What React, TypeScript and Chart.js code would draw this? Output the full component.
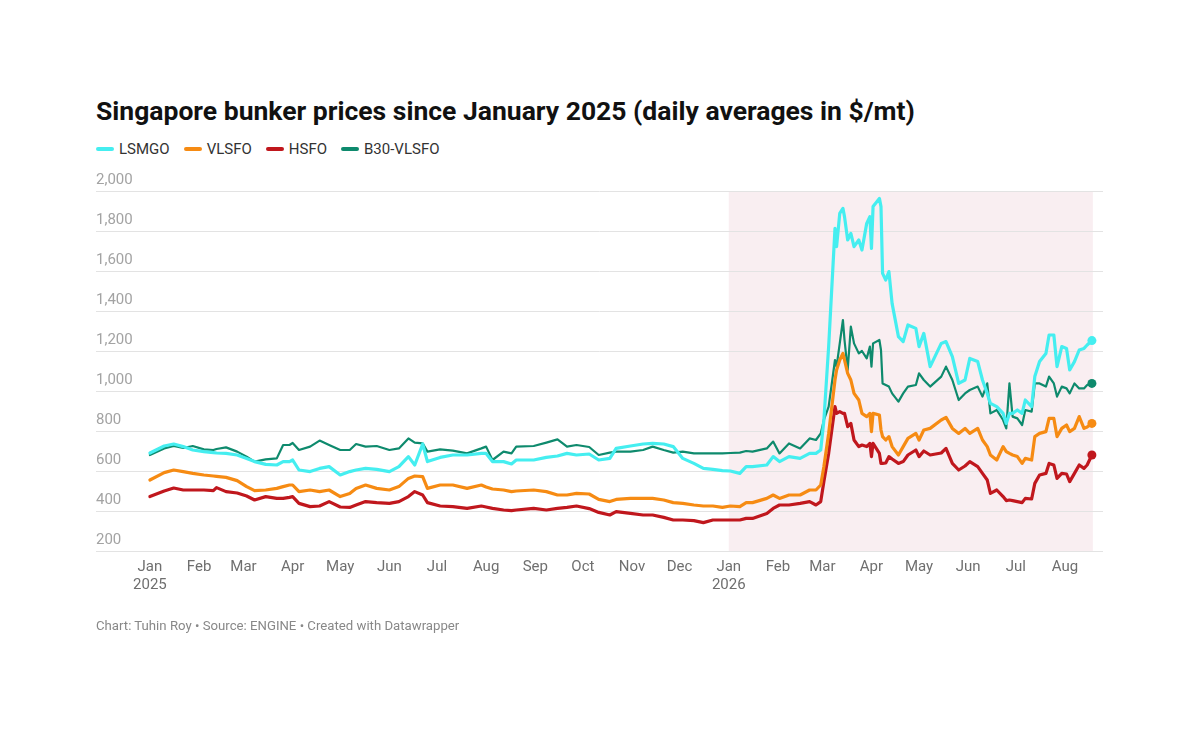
import React, { useEffect, useRef } from "react";
import { Chart, registerables } from "chart.js";

Chart.register(...registerables);

// Day offsets since 1 Jan 2025
const days = [
  0, 9, 15, 21, 27, 34, 40, 42, 48, 55,
  61, 66, 73, 80, 84, 88, 90, 94, 101, 107,
  113, 120, 126, 130, 136, 143, 151, 157, 163, 167,
  172, 175, 183, 191, 200, 209, 212, 216, 223, 228,
  231, 242, 250, 257, 263, 269, 277, 283, 290, 294,
  303, 311, 317, 324, 330, 336, 343, 349, 355, 361,
  366, 372, 376, 380, 389, 393, 397, 403, 410, 416,
  420, 423, 425, 428, 432, 433, 435, 437, 438, 440,
  442, 444, 447, 449, 452, 454, 455, 456, 460, 461,
  462, 464, 466, 468, 472, 475, 478, 483, 485, 488,
  492, 499, 502, 506, 510, 514, 517, 522, 525, 528,
  530, 534, 538, 540, 542, 544, 547, 550, 552, 556,
  558, 561, 565, 567, 570, 572, 575, 578, 580, 583,
  586, 589, 591, 594,
];

const lsmgo = [
  690, 725, 735, 722, 705, 697, 692, 690, 688, 680,
  663, 647, 633, 630, 647, 647, 655, 605, 597, 613,
  622, 580, 597, 605, 613, 608, 597, 622, 672, 630,
  735, 647, 668, 680, 680, 688, 688, 647, 647, 635,
  655, 655, 668, 675, 688, 680, 685, 655, 663, 713,
  725, 735, 738, 735, 722, 663, 638, 613, 608, 602,
  600, 588, 622, 622, 630, 672, 647, 672, 663, 688,
  688, 705, 855, 1222, 1813, 1722, 1888, 1913, 1872, 1755,
  1788, 1722, 1755, 1705, 1838, 1872, 1713, 1922, 1963, 1922,
  1588, 1555, 1597, 1438, 1272, 1247, 1330, 1313, 1222, 1288,
  1122, 1238, 1247, 1172, 1038, 1055, 1163, 1147, 1055, 988,
  938, 922, 888, 838, 888, 888, 905, 888, 955, 922,
  1072, 1147, 1188, 1280, 1280, 1122, 1222, 1213, 1105, 1147,
  1205, 1213, 1230, 1252,
];

const vlsfo = [
  555, 592, 605, 597, 588, 580, 575, 573, 568, 552,
  522, 502, 505, 513, 522, 530, 530, 497, 505, 497,
  505, 472, 488, 513, 530, 513, 505, 522, 563, 575,
  572, 513, 530, 530, 513, 530, 520, 510, 505, 497,
  500, 505, 497, 480, 480, 488, 485, 458, 447, 458,
  463, 463, 463, 455, 442, 438, 430, 425, 425, 418,
  425, 422, 442, 442, 463, 480, 463, 480, 480, 505,
  505, 530, 622, 788, 1055, 1105, 1155, 1188, 1155, 1088,
  1055, 988, 955, 888, 872, 888, 797, 888, 880, 805,
  772, 755, 772, 722, 680, 722, 763, 788, 755, 805,
  813, 855, 868, 813, 788, 813, 788, 813, 755, 722,
  680, 655, 722, 697, 688, 680, 672, 638, 663, 655,
  772, 788, 797, 863, 863, 772, 813, 830, 797, 813,
  872, 813, 820, 838,
];

const hsfo = [
  472, 500, 515, 505, 505, 505, 502, 517, 497, 490,
  475, 455, 472, 463, 463, 468, 472, 438, 422, 425,
  447, 420, 418, 430, 447, 442, 438, 447, 472, 497,
  480, 442, 425, 422, 413, 425, 420, 413, 405, 402,
  405, 413, 405, 413, 418, 425, 412, 393, 380, 397,
  388, 380, 380, 368, 355, 355, 352, 342, 355, 355,
  355, 355, 363, 363, 388, 413, 430, 430, 438, 447,
  430, 447, 547, 688, 922, 888, 897, 888, 888, 822,
  838, 755, 722, 730, 722, 738, 672, 738, 688, 638,
  638, 640, 672, 660, 638, 647, 680, 705, 672, 700,
  680, 690, 713, 638, 605, 625, 647, 622, 588, 555,
  488, 505, 472, 452, 455, 452, 447, 442, 463, 460,
  538, 580, 588, 638, 630, 563, 588, 585, 547, 588,
  630, 613, 630, 680,
];

const b30vlsfo = [
  680, 713, 725, 715, 725, 708, 705, 710, 718, 697,
  672, 647, 658, 663, 730, 730, 740, 705, 722, 752,
  730, 705, 705, 735, 722, 725, 705, 713, 763, 742,
  738, 697, 708, 702, 688, 713, 722, 655, 697, 688,
  722, 725, 742, 758, 722, 730, 720, 680, 692, 697,
  697, 705, 722, 705, 692, 697, 688, 688, 688, 688,
  690, 692, 700, 697, 713, 747, 688, 738, 713, 763,
  755, 788, 855, 922, 1155, 1122, 1238, 1355, 1255, 1105,
  1322, 1238, 1188, 1200, 1163, 1222, 1122, 1238, 1255, 1205,
  1038, 1030, 1022, 988, 947, 988, 1022, 1030, 1088, 1055,
  1022, 1072, 1122, 1055, 955, 988, 1005, 1022, 972, 1038,
  888, 905, 855, 813, 1038, 872, 863, 830, 905, 897,
  1038, 1038, 1022, 1072, 1038, 972, 1022, 1013, 988, 1038,
  1013, 1013, 1030, 1038,
];

const monthTicks = [0, 31, 59, 90, 120, 151, 181, 212, 243, 273, 304, 334, 365, 396, 424, 455, 485, 516, 546, 577];
const monthLabels: (string | string[])[] = [
  ["Jan", "2025"], "Feb", "Mar", "Apr", "May", "Jun", "Jul", "Aug", "Sep", "Oct", "Nov", "Dec",
  ["Jan", "2026"], "Feb", "Mar", "Apr", "May", "Jun", "Jul", "Aug",
];
const yTicks = [200, 400, 600, 800, 1000, 1200, 1400, 1600, 1800, 2000];
const shadeRange = [365, 594.6];

const seriesNames = ["LSMGO", "VLSFO", "HSFO", "B30-VLSFO"];
const seriesColors = ["#45eef0", "#f68b13", "#c0171d", "#0e8a6d"];
const seriesWidths = [3.2, 3.2, 3.2, 2.2];

const shadePlugin = {
  id: "shade",
  beforeDraw(chart: any) {
    const { ctx, chartArea, scales } = chart;
    const x0 = scales.x.getPixelForValue(shadeRange[0]);
    const x1 = scales.x.getPixelForValue(shadeRange[1]);
    ctx.save();
    ctx.fillStyle = "#f9eef1";
    ctx.fillRect(x0, chartArea.top, x1 - x0, chartArea.bottom - chartArea.top);
    ctx.restore();
  },
};

export default function App() {
  const ref = useRef<HTMLCanvasElement | null>(null);

  useEffect(() => {
    if (!ref.current) return;
    Chart.defaults.font.family = "Roboto";
    const all = [lsmgo, vlsfo, hsfo, b30vlsfo];
    const chart = new Chart(ref.current, {
      type: "line",
      data: {
        datasets: all.map((vals, i) => ({
          label: seriesNames[i],
          data: vals.map((v, j) => ({ x: days[j], y: v })),
          borderColor: seriesColors[i],
          backgroundColor: seriesColors[i],
          borderWidth: seriesWidths[i],
          tension: 0,
          borderJoinStyle: "round" as const,
          borderCapStyle: "round" as const,
          pointRadius: (c: any) => (c.dataIndex === vals.length - 1 ? 4.5 : 0),
          pointBorderWidth: 0,
          pointHoverRadius: 0,
        })),
      },
      options: {
        responsive: false,
        animation: false,
        events: [],
        layout: { padding: { left: 96, right: 97, top: 191, bottom: 129 } },
        plugins: { legend: { display: false }, tooltip: { enabled: false } },
        scales: {
          x: {
            type: "linear",
            min: -34,
            max: 601,
            grid: { display: false, drawTicks: false },
            border: { display: false },
            afterBuildTicks: (scale: any) => {
              scale.ticks = monthTicks.map((v) => ({ value: v }));
            },
            ticks: {
              autoSkip: false,
              maxRotation: 0,
              padding: 7,
              color: "#6f6f6f",
              font: { size: 15, family: "Roboto" },
              callback: (_v: any, i: number) => monthLabels[i],
            },
          },
          y: {
            min: 200,
            max: 2000,
            afterBuildTicks: (scale: any) => {
              scale.ticks = yTicks.map((v) => ({ value: v }));
            },
            grid: { color: "#e3e3e3", drawTicks: false, lineWidth: 1 },
            border: { display: false },
            ticks: {
              mirror: true,
              padding: 0,
              labelOffset: -11,
              color: "#a3a3a3",
              font: { size: 15, family: "Roboto" },
              callback: (v: any) => Number(v).toLocaleString("en-US"),
            },
          },
        },
      },
      plugins: [shadePlugin],
    });
    return () => chart.destroy();
  }, []);

  return (
    <div style={{ position: "absolute", left: 0, top: 0, width: 1200, height: 730, background: "#fff", fontFamily: "Roboto" }}>
      <div style={{ position: "absolute", left: 96, top: 97, fontSize: 26.5, lineHeight: "27px", fontWeight: 700, color: "#111", whiteSpace: "nowrap" }}>
        Singapore bunker prices since January 2025 (daily averages in $/mt)
      </div>
      <div style={{ position: "absolute", left: 96, top: 140, display: "flex", alignItems: "center", fontSize: 15, lineHeight: "18px", color: "#333", whiteSpace: "nowrap" }}>
        {seriesNames.map((n, i) => (
          <div key={n} style={{ display: "flex", alignItems: "center", marginRight: 14 }}>
            <span style={{ display: "inline-block", width: 18, height: seriesWidths[i] + 1, borderRadius: 2, background: seriesColors[i], marginRight: 5 }} />
            <span>{n}</span>
          </div>
        ))}
      </div>
      <canvas ref={ref} width={1200} height={730} style={{ position: "absolute", left: 0, top: 0, width: 1200, height: 730 }} />
      <div style={{ position: "absolute", left: 96, top: 618, fontSize: 13.2, lineHeight: "16px", color: "#888", whiteSpace: "nowrap" }}>
        Chart: Tuhin Roy • Source: ENGINE • Created with Datawrapper
      </div>
    </div>
  );
}
